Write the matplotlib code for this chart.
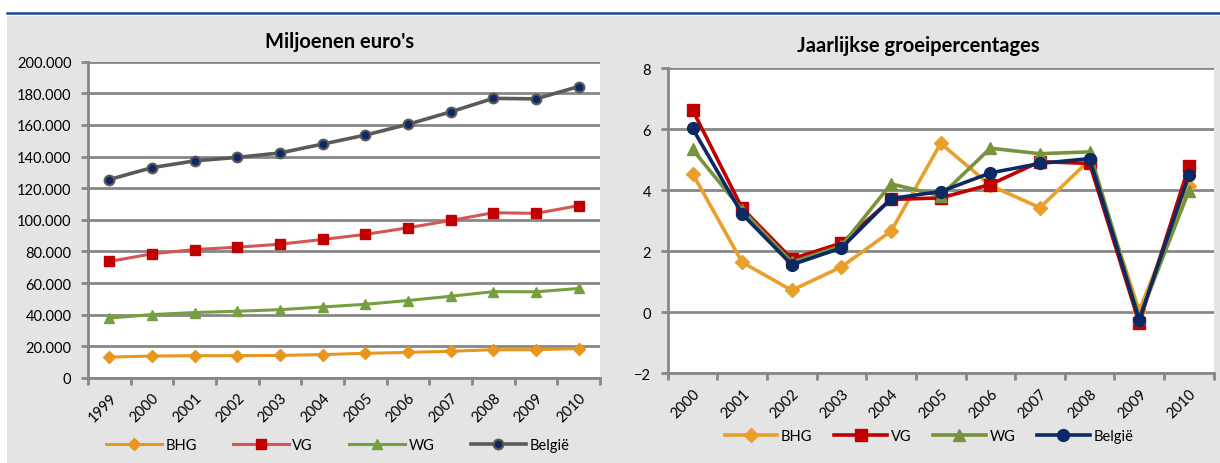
import numpy as np
import matplotlib.pyplot as plt
from matplotlib.ticker import FuncFormatter, FixedLocator, NullFormatter
from matplotlib.patches import Rectangle
from matplotlib.lines import Line2D

plt.rcParams['font.family'] = ['Lato', 'DejaVu Sans']

# left chart: miljoenen euro's
years_l = ['1999', '2000', '2001', '2002', '2003', '2004', '2005', '2006', '2007', '2008', '2009', '2010']
bhg_l = [13.2, 13.9, 14.1, 14.1, 14.3, 14.8, 15.6, 16.2, 16.9, 17.9, 17.9, 18.6]
vg_l = [73.7, 78.5, 81.2, 82.7, 84.6, 87.6, 90.8, 95.0, 99.6, 104.5, 104.1, 109.0]
wg_l = [37.9, 40.1, 41.4, 42.2, 43.2, 44.9, 46.6, 49.0, 51.7, 54.6, 54.5, 56.6]
bel_l = [125.5, 133.0, 137.3, 139.5, 142.3, 147.9, 153.6, 160.4, 168.3, 176.8, 176.5, 184.3]

# right chart: jaarlijkse groeipercentages
years_r = ['2000', '2001', '2002', '2003', '2004', '2005', '2006', '2007', '2008', '2009', '2010']
bhg_r = [4.55, 1.64, 0.72, 1.49, 2.66, 5.54, 4.16, 3.43, 5.0, 0.05, 4.15]
vg_r = [6.64, 3.41, 1.75, 2.27, 3.70, 3.75, 4.19, 4.94, 4.88, -0.35, 4.79]
wg_r = [5.34, 3.35, 1.64, 2.18, 4.21, 3.82, 5.38, 5.20, 5.26, -0.18, 3.98]
bel_r = [6.03, 3.22, 1.56, 2.11, 3.73, 3.96, 4.57, 4.88, 5.04, -0.24, 4.49]

W, H = 1220, 464
fig = plt.figure(figsize=(W / 100, H / 100), dpi=100, facecolor='white')

# grey panel and blue rule on top
fig.patches.append(Rectangle((7 / W, 0), 1 - 7 / W, 1 - 17 / H, transform=fig.transFigure,
                             facecolor='#e4e4e4', edgecolor='none', zorder=-5))
fig.add_artist(Line2D([7 / W, 1], [1 - 13.5 / H, 1 - 13.5 / H], transform=fig.transFigure,
                      color='#1c4b9a', lw=1.8))

grid_c = '#878787'

def style_axes(ax, n, ymin, ymax, step):
    ax.set_facecolor('white')
    ax.set_xlim(0, n)
    ax.set_ylim(ymin, ymax)
    ax.set_yticks(np.arange(ymin, ymax + step / 2, step))
    ax.yaxis.grid(True, color=grid_c, lw=2.0)
    ax.set_axisbelow(True)
    for s in ['top', 'right']:
        ax.spines[s].set_visible(False)
    for s in ['left', 'bottom']:
        ax.spines[s].set_color(grid_c)
        ax.spines[s].set_linewidth(2.0)
    ax.xaxis.set_major_locator(FixedLocator(np.arange(0, n + 1)))
    ax.xaxis.set_major_formatter(NullFormatter())
    ax.xaxis.set_minor_locator(FixedLocator(np.arange(n) + 0.5))
    ax.tick_params(axis='x', which='major', length=5, width=2, color=grid_c)
    ax.tick_params(axis='x', which='minor', length=0, pad=9)
    ax.tick_params(axis='y', length=5, width=2, color=grid_c, labelsize=10.5, pad=7)

# ---- left chart
ax1 = fig.add_axes([88 / W, 1 - 379 / H, 512 / W, 316.3 / H])
style_axes(ax1, len(years_l), 0, 200, 20)
ax1.yaxis.set_major_formatter(FuncFormatter(lambda v, p: '0' if v == 0 else f'{int(v)}.000'))
ax1.set_xticklabels(years_l, minor=True, rotation=45, ha='right', va='top',
                    rotation_mode='anchor', fontsize=10.5)
x1 = np.arange(len(years_l)) + 0.5
ax1.plot(x1, bhg_l, color='#e8961e', lw=2.2, marker='D', ms=6.5, mfc='#e8961e', mec='#e8961e', label='BHG')
ax1.plot(x1, vg_l, color='#d45553', lw=2.2, marker='s', ms=7.5, mfc='#c00000', mec='#c00000', label='VG')
ax1.plot(x1, wg_l, color='#76a040', lw=2.2, marker='^', ms=7.5, mfc='#76a040', mec='#76a040', label='WG')
ax1.plot(x1, bel_l, color='#5a5a5a', lw=2.6, marker='o', ms=7, mfc='#0b2a63', mec='#5a5a5a', mew=1.5, label='België')
fig.text(340 / W, 1 - 42.5 / H, "Miljoenen euro's", fontsize=14.5, fontweight='bold', ha='center', va='center')
fig.legend(*ax1.get_legend_handles_labels(), loc='center', bbox_to_anchor=(338 / W, 1 - 446 / H),
           ncol=4, frameon=False, fontsize=10.5, handlelength=3.8, columnspacing=2.5, handletextpad=0.25)

# ---- right chart
ax2 = fig.add_axes([667.7 / W, 1 - 374.3 / H, 546 / W, 305 / H])
style_axes(ax2, len(years_r), -2, 8, 2)
ax2.set_xticklabels(years_r, minor=True, rotation=45, ha='right', va='top',
                    rotation_mode='anchor', fontsize=10.5)
x2 = np.arange(len(years_r)) + 0.5
ax2.plot(x2, bhg_r, color='#e8a02a', lw=2.6, marker='D', ms=7, mfc='#e8a02a', mec='#e8a02a', label='BHG')
ax2.plot(x2, vg_r, color='#c00000', lw=2.6, marker='s', ms=8, mfc='#c00000', mec='#c00000', label='VG')
ax2.plot(x2, wg_r, color='#77933c', lw=2.6, marker='^', ms=8.5, mfc='#77933c', mec='#77933c', label='WG')
ax2.plot(x2, bel_r, color='#0b2a63', lw=2.6, marker='o', ms=8.5, mfc='#0b2a63', mec='#0b2a63', label='België')
fig.text(918 / W, 1 - 45.7 / H, 'Jaarlijkse groeipercentages', fontsize=14.5, fontweight='bold', ha='center', va='center')
fig.legend(*ax2.get_legend_handles_labels(), loc='center', bbox_to_anchor=(929 / W, 1 - 437 / H),
           ncol=4, frameon=False, fontsize=10.5, handlelength=3.6, columnspacing=1.5, handletextpad=0.27)

fig.savefig('out.png', dpi=100, facecolor=fig.get_facecolor())
